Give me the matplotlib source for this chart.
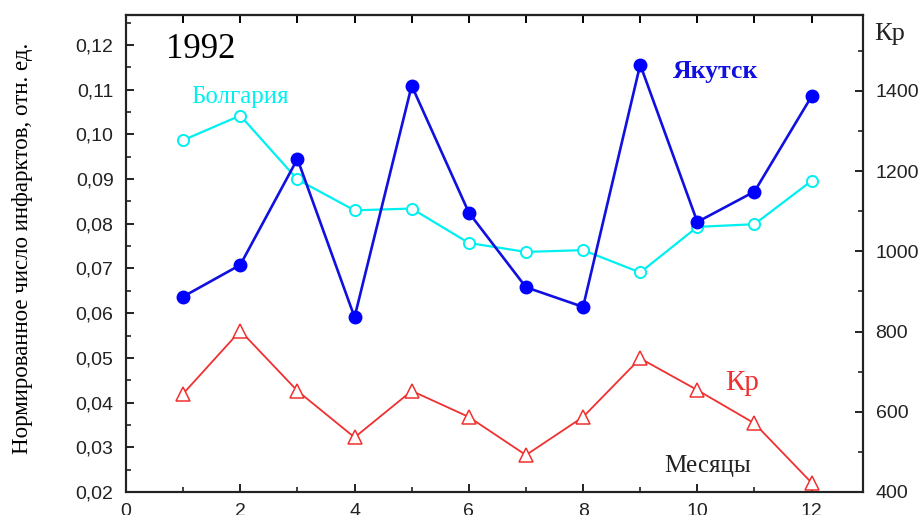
import matplotlib.pyplot as plt
from matplotlib.ticker import MultipleLocator, FuncFormatter

# Monthly data, 1992
months = [1, 2, 3, 4, 5, 6, 7, 8, 9, 10, 11, 12]
yakutsk = [0.0637, 0.0708, 0.0945, 0.0591, 0.1109, 0.0825,
           0.0658, 0.0614, 0.1156, 0.0804, 0.0872, 0.1085]
bulgaria = [0.0987, 0.1042, 0.0899, 0.0830, 0.0834, 0.0757,
            0.0737, 0.0741, 0.0691, 0.0793, 0.0799, 0.0896]
kp = [645, 802, 652, 536, 652, 587, 492, 587, 733, 654, 571, 423]

serif = 'Liberation Serif'
sans = 'Liberation Sans'

fig = plt.figure(figsize=(9.24, 5.15), dpi=100)
ax = fig.add_axes([0.1364, 0.0447, 0.934 - 0.1364, 0.9709 - 0.0447])
ax2 = ax.twinx()

ax.plot(months, bulgaria, color='#00f0f0', lw=1.6, marker='o', ms=8,
        mfc='white', mec='#00f0f0', mew=1.4, zorder=3)
ax.plot(months, yakutsk, color='#1010e0', lw=1.9, marker='o', ms=9,
        mfc='#0000ff', mec='#0000ff', zorder=4)
ax2.plot(months, kp, color='#f03030', lw=1.3, marker='^', ms=10,
         mfc='white', mec='#f03030', mew=1.1)

ax.set_xlim(0, 12.9)
ax.set_ylim(0.02, 0.1267)
ax2.set_ylim(400, 1589)

ax.xaxis.set_major_locator(MultipleLocator(2))
ax.xaxis.set_minor_locator(MultipleLocator(1))
ax.yaxis.set_major_locator(MultipleLocator(0.01))
ax.yaxis.set_minor_locator(MultipleLocator(0.005))
ax.yaxis.set_major_formatter(FuncFormatter(lambda v, p: f"{v:.2f}".replace('.', ',')))
ax2.yaxis.set_major_locator(MultipleLocator(200))
ax2.yaxis.set_minor_locator(MultipleLocator(100))

for a in (ax, ax2):
    for s in a.spines.values():
        s.set_linewidth(1.5)
        s.set_color('#222222')
    a.tick_params(which='major', direction='in', length=6, width=1.4,
                  labelsize=14, pad=9, colors='#222222')
    a.tick_params(which='minor', direction='in', length=3.5, width=1.2,
                  colors='#222222')
    for lab in a.get_xticklabels() + a.get_yticklabels():
        lab.set_fontfamily(sans)
ax.tick_params(axis='x', pad=8)

# ticks along the top edge at every month
top = ax.secondary_xaxis('top')
top.xaxis.set_major_locator(MultipleLocator(1))
top.tick_params(direction='in', length=6, width=1.4, labeltop=False)
top.spines['top'].set_linewidth(1.5)

fig.text(0.024, 0.518, 'Нормированное число инфарктов, отн. ед.', family=serif,
         fontsize=16.5, rotation=90, ha='center', va='center')

fig.text(0.2175, 0.903, '1992', family=serif, fontsize=25, ha='center', va='center')
fig.text(0.26, 0.812, 'Болгария', family=serif, fontsize=18, color='#00f0f0',
         ha='center', va='center')
fig.text(0.774, 0.862, 'Якутск', family=serif, fontsize=18.5, color='#1010e0',
         fontweight='bold', ha='center', va='center')
fig.text(0.803, 0.256, 'Кр', family=serif, fontsize=21, color='#f03030',
         ha='center', va='center')
fig.text(0.766, 0.095, 'Месяцы', family=serif, fontsize=18, color='#222222',
         ha='center', va='center')
fig.text(0.963, 0.934, 'Кр', family=serif, fontsize=19, color='#222222',
         ha='center', va='center')

fig.savefig('out.png', dpi=100)
